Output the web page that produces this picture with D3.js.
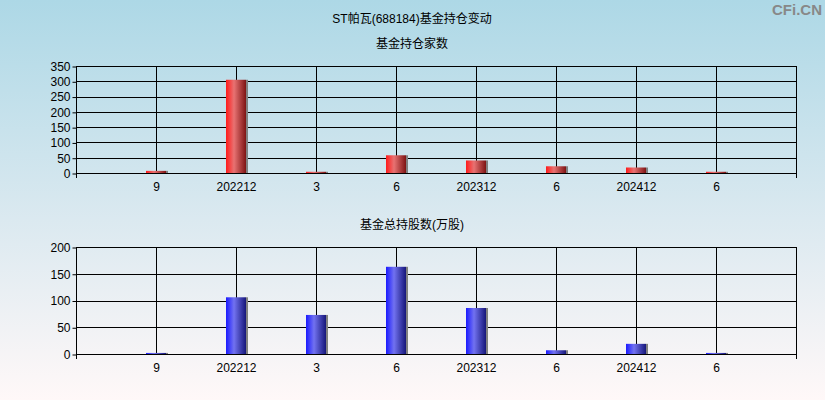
<!DOCTYPE html>
<html>
<head>
<meta charset="utf-8">
<script src="https://cdn.jsdelivr.net/npm/d3@7"></script>
<style>
  html, body { margin: 0; padding: 0; }
  body { width: 825px; height: 400px; overflow: hidden; }
  svg { display: block; }
  text { font-family: "Liberation Sans", Arial, "Noto Sans CJK SC", sans-serif; }
</style>
</head>
<body>
<div id="chart"></div>
<script>
(function () {
  'use strict';
  /* global d3 */

  var W = 825,
      H = 400;

  // data
  var periods = ['9', '202212', '3', '6', '202312', '6', '202412', '6'];
  var fundCount = [7, 305, 4, 58, 41, 22, 18, 4];
  var fundShares = [2, 106, 73, 163, 86, 7, 19, 2];
  var countTicks = [0, 50, 100, 150, 200, 250, 300, 350];
  var shareTicks = [0, 50, 100, 150, 200];

  var svg = d3.select('#chart')
    .append('svg')
    .attr('width', W)
    .attr('height', H);

  var defs = svg.append('defs');

  var bg = defs.append('linearGradient')
    .attr('id', 'bg')
    .attr('x1', 0).attr('y1', 0).attr('x2', 0).attr('y2', 1);
  bg.append('stop').attr('offset', '0%').attr('stop-color', '#add8e6');
  bg.append('stop').attr('offset', '55%').attr('stop-color', '#dbe9f0');
  bg.append('stop').attr('offset', '100%').attr('stop-color', '#fff8f8');

  function barGradient(id, c1, c2, c3) {
    var g = defs.append('linearGradient')
      .attr('id', id)
      .attr('x1', 0).attr('y1', 0).attr('x2', 1).attr('y2', 0);
    g.append('stop').attr('offset', '0%').attr('stop-color', c1);
    g.append('stop').attr('offset', '40%').attr('stop-color', c2);
    g.append('stop').attr('offset', '100%').attr('stop-color', c3);
  }
  barGradient('red', '#ff1a1a', '#e87272', '#7e1414');
  barGradient('blue', '#1a1aff', '#7272f0', '#16167a');

  svg.append('rect')
    .attr('width', W)
    .attr('height', H)
    .attr('fill', 'url(#bg)');

  svg.append('text')
    .attr('x', 412).attr('y', 23)
    .attr('text-anchor', 'middle')
    .attr('font-size', 12)
    .text('ST帕瓦(688184)基金持仓变动');

  svg.append('text')
    .attr('x', 822).attr('y', 15)
    .attr('text-anchor', 'end')
    .attr('font-size', 15)
    .attr('font-weight', 'bold')
    .attr('fill', '#888')
    .text('CFi.CN');

  var x = d3.scaleLinear()
    .domain([0, periods.length + 1])
    .range([76, 796]);

  function panel(opts) {
    var y = d3.scaleLinear()
      .domain([0, opts.max])
      .range([opts.bottom, opts.top]);

    var g = svg.append('g');

    g.append('text')
      .attr('x', 412).attr('y', opts.top - 18)
      .attr('text-anchor', 'middle')
      .attr('font-size', 12)
      .text(opts.title);

    // horizontal grid
    g.selectAll('line.h')
      .data(opts.ticks)
      .enter()
      .append('line')
      .attr('x1', x(0)).attr('x2', x(periods.length + 1))
      .attr('y1', function (d) { return Math.round(y(d)) + 0.5; })
      .attr('y2', function (d) { return Math.round(y(d)) + 0.5; })
      .attr('stroke', '#000');

    // vertical grid
    g.selectAll('line.v')
      .data(periods)
      .enter()
      .append('line')
      .attr('x1', function (d, i) { return Math.round(x(i + 1)) + 0.5; })
      .attr('x2', function (d, i) { return Math.round(x(i + 1)) + 0.5; })
      .attr('y1', y(opts.max)).attr('y2', y(0))
      .attr('stroke', '#000');

    // frame sides + end ticks
    [0, periods.length + 1].forEach(function (p) {
      g.append('line')
        .attr('x1', Math.round(x(p)) + 0.5).attr('x2', Math.round(x(p)) + 0.5)
        .attr('y1', y(opts.max)).attr('y2', y(0) + 5)
        .attr('stroke', '#000');
    });

    // y axis labels
    var yAxis = d3.axisLeft(y).tickValues(opts.ticks).tickSize(4).tickPadding(2);
    var ya = g.append('g')
      .attr('transform', 'translate(' + (Math.round(x(0)) + 0.5) + ',0.5)')
      .call(yAxis);
    ya.select('.domain').remove();
    ya.selectAll('text').attr('font-size', 12).attr('fill', '#000')
      .attr('font-family', '"Liberation Sans", Arial, sans-serif');

    // x labels
    var xAxis = d3.axisBottom(x)
      .tickValues(d3.range(1, periods.length + 1))
      .tickFormat(function (d) { return periods[d - 1]; })
      .tickSize(0).tickPadding(9);
    var xa = g.append('g')
      .attr('transform', 'translate(0,' + y(0) + ')')
      .call(xAxis);
    xa.select('.domain').remove();
    xa.selectAll('text').attr('font-size', 12).attr('fill', '#000')
      .attr('font-family', '"Liberation Sans", Arial, sans-serif');

    // bar shadows
    g.selectAll('rect.s')
      .data(opts.values)
      .enter()
      .append('rect')
      .attr('x', function (d, i) { return x(i + 1) + 10; })
      .attr('y', function (d) { return y(d); })
      .attr('width', 2)
      .attr('height', function (d) { return y(0) - y(d); })
      .attr('fill', '#808080');

    // bars
    g.selectAll('rect.b')
      .data(opts.values)
      .enter()
      .append('rect')
      .attr('x', function (d, i) { return x(i + 1) - 10; })
      .attr('y', function (d) { return y(d); })
      .attr('width', 20)
      .attr('height', function (d) { return y(0) - y(d); })
      .attr('fill', opts.fill);

    // x axis baseline
    g.append('line')
      .attr('x1', x(0)).attr('x2', x(periods.length + 1))
      .attr('y1', Math.round(y(0)) + 0.5).attr('y2', Math.round(y(0)) + 0.5)
      .attr('stroke', '#000');
  }

  panel({
    title: '基金持仓家数',
    values: fundCount,
    ticks: countTicks,
    max: 350,
    top: 66,
    bottom: 173,
    fill: 'url(#red)'
  });

  panel({
    title: '基金总持股数(万股)',
    values: fundShares,
    ticks: shareTicks,
    max: 200,
    top: 247,
    bottom: 354,
    fill: 'url(#blue)'
  });

}());
</script>
</body>
</html>
